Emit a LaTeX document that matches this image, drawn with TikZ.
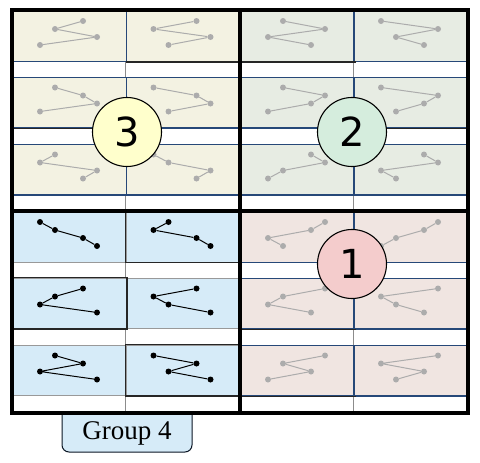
\documentclass[tikz,border=0pt]{standalone}
\usepackage{fontspec}
\setmainfont{Liberation Serif}
\newfontfamily\digitfont{DejaVu Sans}
\usepackage{tikz}
\usetikzlibrary{positioning,calc}
\definecolor{panelbeige}{RGB}{243,242,226}
\definecolor{panelgreen}{RGB}{231,236,227}
\definecolor{panelpink}{RGB}{240,229,225}
\definecolor{panelblue}{RGB}{214,235,248}
\definecolor{edgeblue}{RGB}{38,72,120}
\definecolor{dotgray}{RGB}{172,172,172}
\definecolor{markyellow}{RGB}{255,255,204}
\definecolor{markgreen}{RGB}{213,237,221}
\definecolor{markpink}{RGB}{244,204,204}
\tikzset{
  panel/.style={rectangle, draw=edgeblue, line width=1.6pt, anchor=north west, minimum width=114pt, minimum height=50.5pt, inner sep=0pt},
  dot/.style={circle, fill=dotgray, inner sep=0pt, minimum size=6pt},
  permline/.style={dotgray, line width=1pt},
  pickline/.style={draw=black!85, line width=1.7pt},
  quadframe/.style={line width=3.8pt, draw=black},
  divider/.style={draw=black!45, line width=0.8pt},
  marker/.style={circle, draw=black, line width=1.1pt, minimum size=69pt, inner sep=0pt, font=\digitfont\fontsize{40}{40}\selectfont},
  tabline/.style={draw=black!70!edgeblue, line width=1pt, fill=panelblue, rounded corners=7pt},
  blackcells/.style={panel/.append style={draw=black!40, line width=0.9pt, fill=panelblue}, dot/.append style={fill=black}, permline/.append style={draw=black}}
}
% x positions of the four points, by rank
\newcommand{\xoff}[1]{\ifcase#1\or28\or43\or71\or85\fi}
% one cell: name, top left corner, x ranks of the points from top to bottom
\newcommand{\permcell}[7]{%
  \node[panel] (#1) at (#2,#3) {};
  \node[dot] (#1-1) at ([shift={({\xoff{#4}},11)}]#1.north west) {};
  \node[dot] (#1-2) at ([shift={({\xoff{#5}},19)}]#1.north west) {};
  \node[dot] (#1-3) at ([shift={({\xoff{#6}},27)}]#1.north west) {};
  \node[dot] (#1-4) at ([shift={({\xoff{#7}},35)}]#1.north west) {};
  \draw[permline] (#1-1)--(#1-2)--(#1-3)--(#1-4);
}
\newcommand{\pickcell}[1]{\draw[pickline] (#1.north west) rectangle (#1.south east);}
\newcommand{\pickbase}[1]{\draw[pickline] (#1.south west) -- (#1.south east);}
\begin{document}
\begin{tikzpicture}[x=1pt,y=-1pt]
  \useasboundingbox (0,0) rectangle (480,463);
  % tab under group 4
  \draw[tabline] (62,413) -- (62,452) -- (192,452) -- (192,413);
  \node[font=\fontsize{27}{27}\selectfont] (g4) at (127,433) {Group 4};

  % column dividers in the white strips
  \draw[divider] (125.5,10) -- (125.5,413);
  \draw[divider] (353,10) -- (353,413);

  % quadrant 3
  \begin{scope}[panel/.append style={fill=panelbeige}]
    \permcell{c31}{12}{10}{3}{2}{4}{1}
    \permcell{c32}{125.5}{10}{3}{1}{4}{2}
    \permcell{c33}{12}{76.5}{2}{3}{4}{1}
    \permcell{c34}{125.5}{76.5}{1}{3}{4}{2}
    \permcell{c35}{12}{143.5}{2}{1}{4}{3}
    \permcell{c36}{125.5}{143.5}{1}{2}{4}{3}
  \end{scope}

  % quadrant 2
  \begin{scope}[panel/.append style={fill=panelgreen}]
    \permcell{c21}{240}{10}{2}{4}{1}{3}
    \permcell{c22}{353}{10}{1}{4}{2}{3}
    \permcell{c23}{240}{76.5}{2}{4}{3}{1}
    \permcell{c24}{353}{76.5}{1}{4}{3}{2}
    \permcell{c25}{240}{143.5}{3}{4}{2}{1}
    \permcell{c26}{353}{143.5}{3}{4}{1}{2}
  \end{scope}

  % quadrant 4
  \begin{scope}[blackcells]
    \permcell{c41}{12}{211}{1}{2}{3}{4}
    \permcell{c42}{125.5}{211}{2}{1}{3}{4}
    \permcell{c43}{12}{277.5}{3}{2}{1}{4}
    \permcell{c44}{125.5}{277.5}{3}{1}{2}{4}
    \permcell{c45}{12}{344.5}{2}{3}{1}{4}
    \permcell{c46}{125.5}{344.5}{1}{3}{2}{4}
  \end{scope}

  % quadrant 1
  \begin{scope}[panel/.append style={fill=panelpink}]
    \permcell{c11}{240}{211}{4}{3}{1}{2}
    \permcell{c12}{353}{211}{4}{3}{2}{1}
    \permcell{c13}{240}{277.5}{4}{2}{1}{3}
    \permcell{c14}{353}{277.5}{4}{1}{2}{3}
    \permcell{c15}{240}{344.5}{4}{2}{3}{1}
    \permcell{c16}{353}{344.5}{4}{1}{3}{2}
  \end{scope}

  % picked cells
  \pickcell{c42}
  \pickcell{c43}
  \pickcell{c46}
  \begin{scope}[pickline/.append style={line width=1.4pt}]
    \pickbase{c32}
    \pickbase{c33}
    \pickbase{c21}
    \pickbase{c24}
    \pickbase{c13}
    \pickbase{c15}
  \end{scope}

  % frames
  \draw[quadframe] (12,10) rectangle (240,211);
  \draw[quadframe] (240,10) rectangle (468,211);
  \draw[quadframe] (12,211) rectangle (240,413);
  \draw[quadframe] (240,211) rectangle (468,413);

  % group markers
  \node[marker, fill=markyellow] (m3) at (127,132) {3};
  \node[marker, fill=markgreen] (m2) at (352,132) {2};
  \node[marker, fill=markpink] (m1) at (352,264) {1};
\end{tikzpicture}
\end{document}
